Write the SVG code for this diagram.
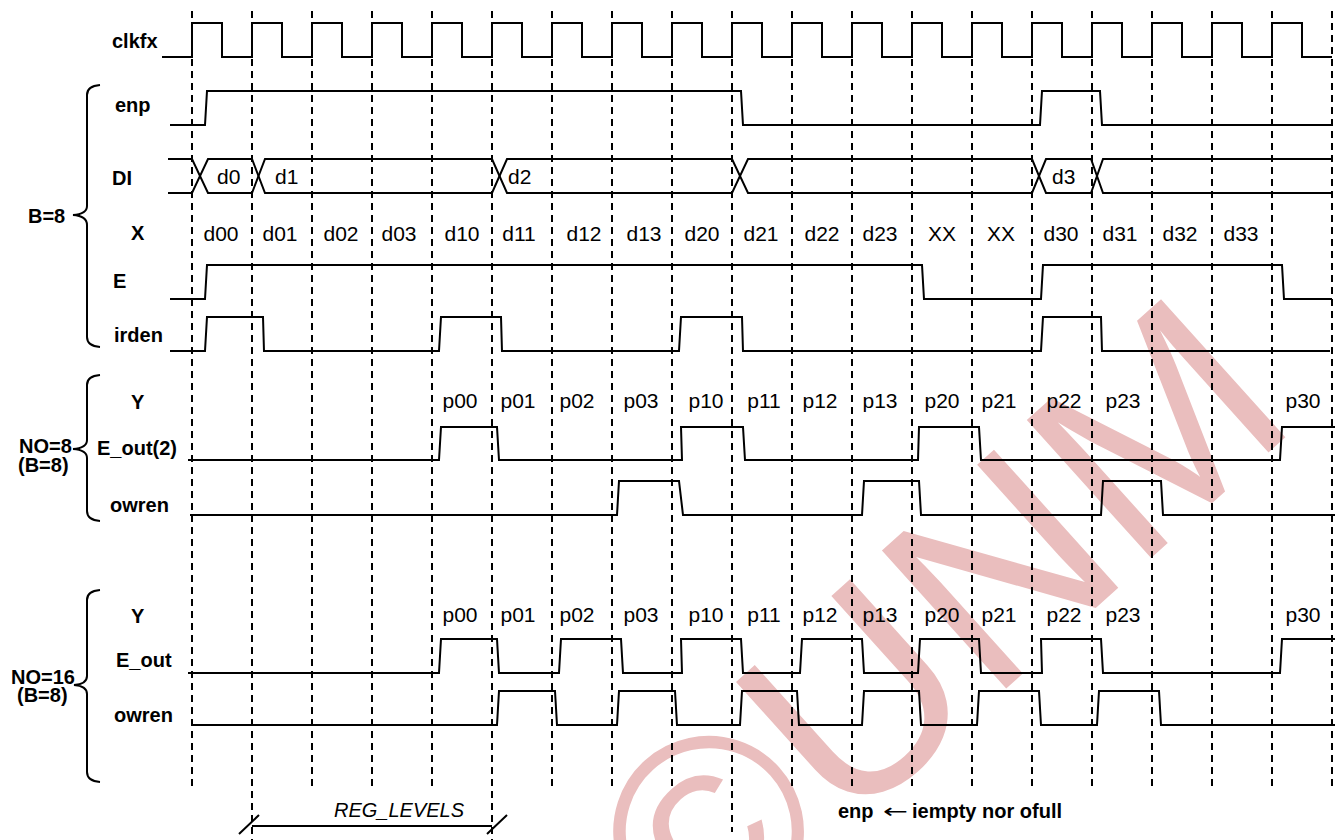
<svg xmlns="http://www.w3.org/2000/svg" width="1338" height="840" viewBox="0 0 1338 840">
<style>
.w{fill:none;stroke:#000;stroke-width:2;stroke-linejoin:miter}
.g{fill:none;stroke:#000;stroke-width:2;stroke-dasharray:7,5}
.lb{font-family:"Liberation Sans",Arial,sans-serif;font-weight:bold;font-size:20px;fill:#000}
.dt{font-family:"Liberation Sans",Arial,sans-serif;font-size:21px;fill:#000}
.dc{font-family:"Liberation Sans",Arial,sans-serif;font-size:21px;fill:#000;text-anchor:middle}
.it{font-family:"Liberation Sans",Arial,sans-serif;font-style:italic;font-size:20px;fill:#000}
</style>
<rect width="1338" height="840" fill="#fff"/>
<text id="watermark" transform="translate(697,967) rotate(-42)" font-family="Liberation Sans,Arial,sans-serif" font-size="270" fill="#eabebe">©UNM</text>
<g id="grid">
<line class="g" x1="192" y1="11" x2="192" y2="788"/>
<line class="g" x1="252" y1="11" x2="252" y2="840"/>
<line class="g" x1="312" y1="11" x2="312" y2="788"/>
<line class="g" x1="372" y1="11" x2="372" y2="788"/>
<line class="g" x1="432" y1="11" x2="432" y2="788"/>
<line class="g" x1="492" y1="11" x2="492" y2="840"/>
<line class="g" x1="552" y1="11" x2="552" y2="788"/>
<line class="g" x1="612" y1="11" x2="612" y2="788"/>
<line class="g" x1="672" y1="11" x2="672" y2="788"/>
<line class="g" x1="732" y1="11" x2="732" y2="832"/>
<line class="g" x1="792" y1="11" x2="792" y2="788"/>
<line class="g" x1="852" y1="11" x2="852" y2="788"/>
<line class="g" x1="912" y1="11" x2="912" y2="788"/>
<line class="g" x1="972" y1="11" x2="972" y2="788"/>
<line class="g" x1="1032" y1="11" x2="1032" y2="788"/>
<line class="g" x1="1092" y1="11" x2="1092" y2="788"/>
<line class="g" x1="1152" y1="11" x2="1152" y2="788"/>
<line class="g" x1="1212" y1="11" x2="1212" y2="788"/>
<line class="g" x1="1272" y1="11" x2="1272" y2="788"/>
<line class="g" x1="1332" y1="11" x2="1332" y2="788"/>
</g>
<g id="clkfx">
<text class="lb" x="112" y="48">clkfx</text>
<path class="w" d="M162,57 H192 V23 H222 V57 H252 V23 H282 V57 H312 V23 H342 V57 H372 V23 H402 V57 H432 V23 H462 V57 H492 V23 H522 V57 H552 V23 H582 V57 H612 V23 H642 V57 H672 V23 H702 V57 H732 V23 H762 V57 H792 V23 H822 V57 H852 V23 H882 V57 H912 V23 H942 V57 H972 V23 H1002 V57 H1032 V23 H1062 V57 H1092 V23 H1122 V57 H1152 V23 H1182 V57 H1212 V23 H1242 V57 H1272 V23 H1302 V57 H1332"/>
</g>
<g id="brace-b8">
<path class="w" d="M100,85 Q87,86 87,95 V206 Q87,214 73,215 Q87,216 87,225 V337 Q87,346 100,347"/>
<text class="lb" x="28" y="223">B=8</text>
</g>
<g id="enp">
<text class="lb" x="115" y="112">enp</text>
<path class="w" d="M170,125 H205 L207,91 H741 L743,125 H1040 L1042,91 H1100 L1102,125 H1333"/>
</g>
<g id="DI">
<text class="lb" x="112" y="185">DI</text>
<path class="w" d="M168,159 H192 L208,193 H252 L265,159 H492 L507,193 H732 L748,159 H1032 L1046,193 H1091 L1103,159 H1332"/>
<path class="w" d="M168,193 H192 L208,159 H252 L265,193 H492 L507,159 H732 L748,193 H1032 L1046,159 H1091 L1103,193 H1332"/>
<text class="dt" x="217" y="184">d0</text>
<text class="dt" x="275" y="184">d1</text>
<text class="dt" x="508" y="184">d2</text>
<text class="dt" x="1052" y="184">d3</text>
</g>
<g id="X">
<text class="lb" x="131" y="240">X</text>
<text class="dc" x="221" y="241">d00</text>
<text class="dc" x="280" y="241">d01</text>
<text class="dc" x="341" y="241">d02</text>
<text class="dc" x="399" y="241">d03</text>
<text class="dc" x="462" y="241">d10</text>
<text class="dc" x="519" y="241">d11</text>
<text class="dc" x="584" y="241">d12</text>
<text class="dc" x="644" y="241">d13</text>
<text class="dc" x="702" y="241">d20</text>
<text class="dc" x="761" y="241">d21</text>
<text class="dc" x="822" y="241">d22</text>
<text class="dc" x="880" y="241">d23</text>
<text class="dc" x="942" y="241">XX</text>
<text class="dc" x="1001" y="241">XX</text>
<text class="dc" x="1061" y="241">d30</text>
<text class="dc" x="1120" y="241">d31</text>
<text class="dc" x="1180" y="241">d32</text>
<text class="dc" x="1241" y="241">d33</text>
</g>
<g id="E">
<text class="lb" x="113" y="288">E</text>
<path class="w" d="M170,299 H205 L207,265 H922 L924,299 H1041 L1043,265 H1282 L1284,299 H1332"/>
</g>
<g id="irden">
<text class="lb" x="114" y="342">irden</text>
<path class="w" d="M170,351 H205 L207,317 H263 L264,351 H439 L441,317 H501 L502,351 H679 L681,317 H742 L743,351 H1041 L1043,317 H1101 L1102,351 H1330"/>
</g>
<g id="brace-no8">
<path class="w" d="M100,375 Q87,376 87,385 V440 Q87,448 73,449 Q87,450 87,458 V511 Q87,520 100,521"/>
<text class="lb" x="19" y="453">NO=8</text>
<text class="lb" x="18" y="472">(B=8)</text>
</g>
<g id="Y-no8">
<text class="lb" x="131" y="409">Y</text>
<text class="dc" x="460" y="408">p00</text>
<text class="dc" x="518" y="408">p01</text>
<text class="dc" x="577" y="408">p02</text>
<text class="dc" x="641" y="408">p03</text>
<text class="dc" x="706" y="408">p10</text>
<text class="dc" x="764" y="408">p11</text>
<text class="dc" x="820" y="408">p12</text>
<text class="dc" x="880" y="408">p13</text>
<text class="dc" x="942" y="408">p20</text>
<text class="dc" x="999" y="408">p21</text>
<text class="dc" x="1064" y="408">p22</text>
<text class="dc" x="1123" y="408">p23</text>
<text class="dc" x="1303" y="408">p30</text>
</g>
<g id="E_out2">
<text class="lb" x="97" y="455">E_out(2)</text>
<path class="w" d="M188,460 H439 L441,427 H497 L499,460 H682 L681,427 H743 L745,460 H918 L919,427 H979 L981,460 H1280 L1282,427 H1335"/>
</g>
<g id="owren-no8">
<text class="lb" x="110" y="512">owren</text>
<path class="w" d="M190,515 H617 L619,481 H679 L683,515 H862 L864,481 H919 L921,515 H1101 L1103,481 H1161 L1163,515 H1335"/>
</g>
<g id="brace-no16">
<path class="w" d="M100,590 Q87,591 87,600 V676 Q87,684 74,685 Q87,686 87,694 V772 Q87,781 100,782"/>
<text class="lb" x="11" y="684">NO=16</text>
<text class="lb" x="17" y="702">(B=8)</text>
</g>
<g id="Y-no16">
<text class="lb" x="131" y="623">Y</text>
<text class="dc" x="460" y="622">p00</text>
<text class="dc" x="518" y="622">p01</text>
<text class="dc" x="577" y="622">p02</text>
<text class="dc" x="641" y="622">p03</text>
<text class="dc" x="706" y="622">p10</text>
<text class="dc" x="764" y="622">p11</text>
<text class="dc" x="820" y="622">p12</text>
<text class="dc" x="880" y="622">p13</text>
<text class="dc" x="942" y="622">p20</text>
<text class="dc" x="999" y="622">p21</text>
<text class="dc" x="1064" y="622">p22</text>
<text class="dc" x="1123" y="622">p23</text>
<text class="dc" x="1303" y="622">p30</text>
</g>
<g id="E_out">
<text class="lb" x="116" y="667">E_out</text>
<path class="w" d="M188,673 H439 L441,639 H497 L499,673 H559 L561,639 H621 L623,673 H682 L681,639 H741 L743,673 H800 L802,639 H862 L864,673 H918 L920,639 H979 L981,673 H1042 L1041,639 H1101 L1103,673 H1280 L1282,639 H1335"/>
</g>
<g id="owren-no16">
<text class="lb" x="114" y="722">owren</text>
<path class="w" d="M192,725 H497 L499,691 H555 L557,725 H617 L619,691 H675 L677,725 H740 L742,691 H797 L799,725 H862 L864,691 H919 L921,725 H977 L979,691 H1039 L1041,725 H1097 L1099,691 H1159 L1161,725 H1335"/>
</g>
<g id="reg-levels">
<text class="it" x="334" y="817">REG_LEVELS</text>
<path class="w" d="M252,826 H492 M239,834 L259,815 M487,834 L507,815"/>
</g>
<g id="note">
<text class="lb" x="838" y="818">enp</text>
<text x="883" y="818" font-family="DejaVu Sans,sans-serif" font-size="20" fill="#000" textLength="25" lengthAdjust="spacingAndGlyphs">←</text>
<text class="lb" x="912" y="818">iempty nor ofull</text>
</g>
</svg>
